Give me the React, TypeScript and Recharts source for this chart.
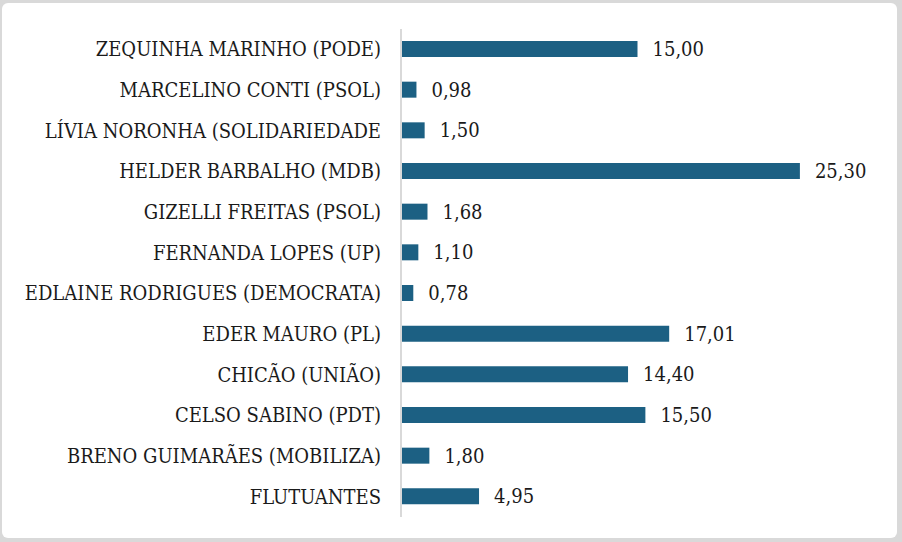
import React from 'react';
import { BarChart, Bar, XAxis, YAxis, LabelList } from 'recharts';

const candidates = [
  'ZEQUINHA MARINHO (PODE)',
  'MARCELINO CONTI (PSOL)',
  'LÍVIA NORONHA (SOLIDARIEDADE',
  'HELDER BARBALHO (MDB)',
  'GIZELLI FREITAS (PSOL)',
  'FERNANDA LOPES (UP)',
  'EDLAINE RODRIGUES (DEMOCRATA)',
  'EDER MAURO (PL)',
  'CHICÃO (UNIÃO)',
  'CELSO SABINO (PDT)',
  'BRENO GUIMARÃES (MOBILIZA)',
  'FLUTUANTES',
];

const votes = [15.0, 0.98, 1.5, 25.3, 1.68, 1.1, 0.78, 17.01, 14.4, 15.5, 1.8, 4.95];

const data = candidates.map((name, i) => ({ name, value: votes[i] }));

const FONT = '"DejaVu Serif Condensed", "DejaVu Serif", serif';

export default function App() {
  return (
    <div
      style={{
        position: 'absolute',
        left: 0,
        top: 0,
        width: 902,
        height: 542,
        background: '#d9d9d9',
      }}
    >
      <div
        style={{
          position: 'absolute',
          left: 2,
          top: 3,
          width: 895,
          height: 535,
          background: '#ffffff',
          borderRadius: 6,
        }}
      >
        <BarChart
          width={895}
          height={535}
          data={data}
          layout="vertical"
          margin={{ top: 26, right: 23, bottom: 21, left: 0 }}
          barSize={16}
        >
          <XAxis type="number" hide domain={[0, 30]} />
          <YAxis
            type="category"
            dataKey="name"
            width={399}
            axisLine={{ stroke: '#d9d9d9', strokeWidth: 2 }}
            tickLine={false}
            tickSize={0}
            tickMargin={20}
            interval={0}
            tick={{ fill: '#1a1a1a', fontSize: 20, fontFamily: FONT }}
          />
          <Bar dataKey="value" fill="#1c6083" isAnimationActive={false}>
            <LabelList
              dataKey="value"
              position="right"
              offset={15}
              formatter={(v: number) => v.toFixed(2).replace('.', ',')}
              style={{ fill: '#1a1a1a', fontSize: 20, fontFamily: FONT }}
            />
          </Bar>
        </BarChart>
      </div>
    </div>
  );
}
